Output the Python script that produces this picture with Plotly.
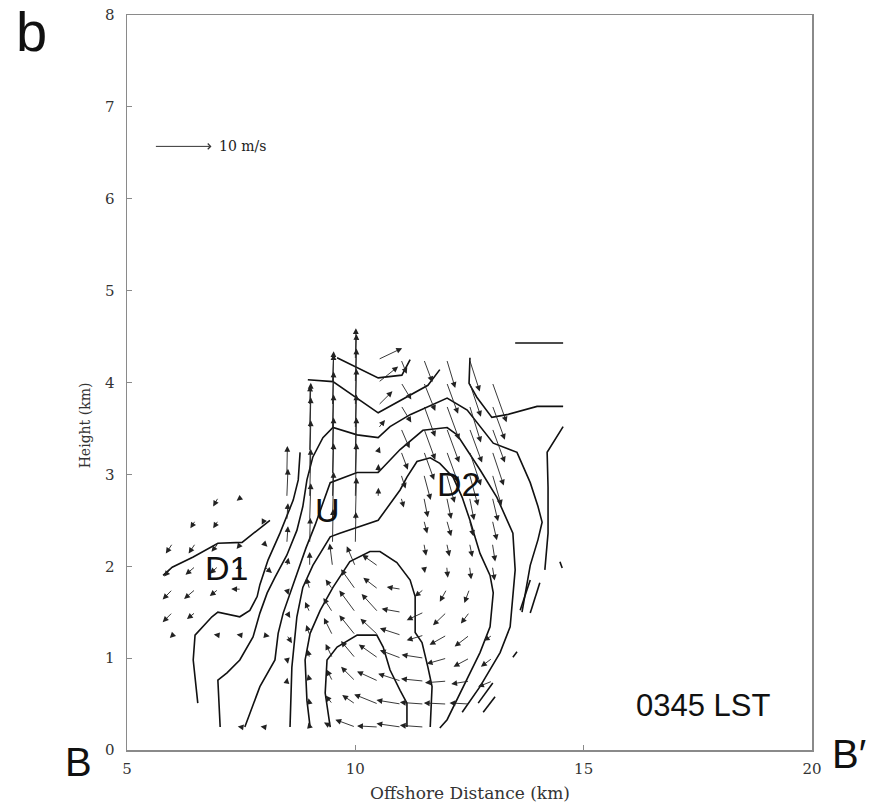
import plotly.graph_objects as go

# ---------------- data ----------------
X_GRID = [6.0, 6.5, 7.0, 7.5, 8.0, 8.5, 9.0, 9.5, 10.0, 10.5, 11.0, 11.5, 12.0, 12.5, 13.0, 13.5, 14.0, 14.5]
Z_GRID = [0.25, 0.5, 0.75, 1.0, 1.25, 1.5, 1.75, 2.0, 2.25, 2.5, 2.75, 3.0, 3.25, 3.5, 3.75, 4.0, 4.25]
N = None
# horizontal wind (m/s), one row per height
U_ROWS = [
    [N, N, -0.5, -0.6, -0.6, -0.3, -0.2, -1.5, -3.5, -3.7, -4.3, -4.2, N, N, N, N, N, N],
    [N, -0.4, -0.4, -0.5, -0.5, 0.1, -0.2, -1.2, -2.3, -4.2, -4.3, -4.2, -4.0, -3.5, N, N, N, N],
    [-0.3, N, -0.4, -0.5, -0.4, 0.1, -0.3, -1.0, -2.5, -3.7, -4.0, -4.0, -3.8, -3.2, -2.5, N, N, N],
    [-0.3, -0.3, -0.3, N, -0.3, 0.2, -0.4, -1.2, -2.5, -3.4, -3.7, -3.9, -3.5, -2.8, -2.0, N, N, N],
    [-0.5, -0.3, -0.8, -0.8, 1.0, 0.9, -0.6, -1.5, -2.8, -3.1, -3.7, -3.0, -3.0, -2.6, -1.5, N, N, N],
    [-1.75, -1.5, -0.4, N, -0.4, 0.6, -0.8, -1.6, -2.8, -2.9, -3.4, -3.0, -2.4, -1.5, N, N, N, N],
    [-1.75, -2.0, -1.5, -1.75, -0.5, 0.3, -0.6, -1.2, -2.5, -2.6, -2.5, -1.6, -1.2, -0.9, N, N, N, N],
    [-1.5, -1.75, -1.5, -1.0, 1.4, 0.3, 0.0, -0.5, -1.5, -2.8, -0.3, 0.2, 0.2, 0.3, 0.4, N, N, N],
    [-1.2, -1.2, -1.2, -0.8, 0.6, 0.2, 0.1, 0.1, 0.1, 0.2, 0.05, 0.4, 0.5, 0.5, 0.5, N, N, N],
    [N, -0.9, -0.9, -0.4, -0.4, 0.2, 0.2, 0.2, 0.2, 0.05, 0.1, 0.6, 0.8, 0.7, 0.8, N, N, N],
    [N, N, -0.9, -0.8, N, 0.2, 0.2, 0.2, 0.2, 0.05, 0.5, 0.7, 0.8, 0.8, 1.0, N, N, N],
    [N, N, N, N, N, 0.1, 0.2, 0.2, 0.2, 0.05, 0.8, 1.2, 1.4, 1.5, 1.6, N, N, N],
    [N, N, N, N, N, N, 0.2, 0.2, 0.2, 0.3, 1.2, 1.8, 2.0, 2.0, 2.0, N, N, N],
    [N, N, N, N, N, N, 0.2, 0.2, 0.2, 1.2, 1.5, 2.0, 2.2, 2.2, 2.2, N, N, N],
    [N, N, N, N, N, N, 0.1, 0.2, 0.2, 2.5, 1.8, 2.0, 2.2, 2.0, 2.2, N, N, N],
    [N, N, N, N, N, N, N, 0.2, 0.2, 3.5, 1.8, 2.0, 2.0, 2.0, 2.5, N, N, N],
    [N, N, N, N, N, N, N, N, 0.1, 4.2, 1.0, 1.5, 1.5, 1.8, N, N, N, N],
]
# vertical wind (m/s)
W_ROWS = [
    [N, N, 0.1, 0.1, 0.1, 0.4, 0.8, 0.8, 1.3, 0.2, 0.6, 0.3, N, N, N, N, N, N],
    [N, 0.1, 0.1, 0.1, 0.1, 0.5, 1.0, 1.5, 1.6, 1.7, 0.7, 0.3, 0.2, 0.2, N, N, N, N],
    [0.1, N, 0.1, 0.1, 0.1, 0.6, 1.2, 2.0, 2.5, 1.7, 1.3, 0.4, -0.3, -0.5, -1.0, N, N, N],
    [-0.2, 0.1, 0.1, N, 0.1, -1.0, 1.5, 2.5, 3.0, 2.4, 1.4, 0.6, -1.0, -1.5, -1.5, N, N, N],
    [-0.5, 0.1, 0.1, 0.1, -0.2, -1.4, 1.8, 3.0, 3.5, 2.9, 1.2, -0.9, -1.7, -2.0, -1.0, N, N, N],
    [-1.75, -1.2, -0.2, N, 0.3, -1.0, 1.8, 2.5, 3.8, 3.2, 0.6, -1.4, -2.3, -2.0, N, N, N, N],
    [-1.8, -1.7, -1.2, 0.05, 0.2, -1.0, 2.0, 1.7, 3.5, 2.0, 0.4, -1.3, -2.2, -2.4, N, N, N, N],
    [-1.8, -1.5, -1.3, -0.5, -1.2, 1.5, 2.5, 4.0, 3.5, 2.0, -0.3, -1.2, -2.0, -2.3, -2.5, N, N, N],
    [-1.8, -1.8, -1.5, -1.0, -0.6, 3.0, 4.5, 6.0, 5.5, 0.3, -0.3, -2.2, -2.3, -2.4, -3.2, N, N, N],
    [N, -1.4, -1.4, -0.3, -0.8, 3.0, 6.5, 8.5, 7.5, 0.5, -0.5, -2.3, -2.8, -2.8, -3.5, N, N, N],
    [N, N, -1.6, -0.6, N, 5.0, 8.5, 9.5, 9.5, 1.7, -1.8, -3.5, -3.8, -4.0, -4.2, N, N, N],
    [N, N, N, N, N, 5.0, 9.5, 10.0, 10.0, 1.8, -2.5, -4.5, -5.0, -5.5, -5.5, N, N, N],
    [N, N, N, N, N, N, 9.5, 10.0, 10.0, 0.8, -3.2, -5.0, -5.5, -6.0, -6.0, N, N, N],
    [N, N, N, N, N, N, 8.0, 10.0, 10.5, 1.5, -3.5, -5.5, -6.0, -6.0, -6.0, N, N, N],
    [N, N, N, N, N, N, 3.5, 9.0, 10.0, 2.5, -3.0, -5.5, -6.0, -6.5, -6.0, N, N, N],
    [N, N, N, N, N, N, N, 5.5, 8.5, 2.8, -3.0, -5.0, -5.5, -6.0, -7.0, N, N, N],
    [N, N, N, N, N, N, N, N, 5.5, 2.0, -2.5, -4.0, -5.0, -5.6, N, N, N, N],
]

# contour lines (km)
CONTOURS = {
    "k1": ([5.79, 5.99, 6.45, 6.99, 7.52, 8.07, 8.13],
           [1.90, 1.99, 2.10, 2.25, 2.26, 2.47, 2.50]),
    "k2": ([6.55, 6.45, 6.49, 6.86, 6.99, 7.47, 7.69, 7.85, 7.91, 8.09, 8.35, 8.50, 8.64, 8.75, 8.79],
           [0.51, 0.98, 1.25, 1.45, 1.50, 1.45, 1.52, 1.67, 1.80, 2.07, 2.36, 2.54, 2.72, 2.94, 3.24]),
    "k3": ([7.04, 6.99, 7.19, 7.47, 7.76, 7.91, 8.07, 8.24, 8.50, 8.72, 8.85, 8.94, 9.07, 9.18, 9.29, 9.51,
            10.04, 10.50, 10.76, 11.20, 12.01, 12.45, 13.02, 13.54, 13.83, 14.00, 14.09, 14.00, 13.83, 13.65],
           [0.25, 0.76, 0.84, 0.98, 1.23, 1.49, 1.71, 1.88, 2.12, 2.39, 2.65, 2.94, 3.19, 3.30, 3.40, 3.51,
            3.43, 3.40, 3.52, 3.65, 3.83, 3.70, 3.34, 3.24, 2.91, 2.65, 2.48, 2.29, 2.01, 1.50]),
    "k4": ([7.58, 7.91, 8.24, 8.31, 8.42, 8.57, 8.75, 8.92, 9.12, 9.27, 9.45, 10.04, 10.50, 10.98, 11.48,
            12.01, 12.23, 12.73, 13.10, 13.45, 13.50, 13.39, 13.17, 12.73, 12.34],
           [0.25, 0.69, 0.98, 1.27, 1.49, 1.71, 1.96, 2.20, 2.45, 2.67, 2.91, 3.02, 3.02, 3.27, 3.48,
            3.51, 3.43, 3.05, 2.75, 2.36, 1.96, 1.34, 1.06, 0.69, 0.41]),
    "k5": ([8.57, 8.61, 8.72, 8.85, 9.07, 9.45, 9.66, 10.50, 10.98, 11.13, 11.35, 11.64, 11.85, 12.14,
            12.34, 12.51, 12.73, 12.95, 13.02, 12.95, 12.73, 12.29, 12.01, 11.85],
           [0.25, 0.90, 1.45, 1.77, 2.01, 2.32, 2.36, 2.50, 2.83, 2.97, 3.14, 3.18, 3.12, 2.97,
            2.75, 2.50, 2.14, 1.90, 1.71, 1.34, 1.06, 0.62, 0.33, 0.24]),
    "k6": ([9.01, 8.94, 8.90, 9.01, 9.23, 9.51, 9.88, 10.32, 10.54, 10.91, 11.20, 11.31, 11.31, 11.46, 11.59, 11.68, 11.64],
           [0.25, 0.54, 0.98, 1.27, 1.52, 1.77, 2.05, 2.16, 2.16, 2.04, 1.85, 1.67, 1.28, 1.17, 0.90, 0.69, 0.25]),
    "k7": ([9.45, 9.34, 9.38, 9.60, 10.04, 10.47, 10.61, 10.76, 10.98, 11.13, 11.13],
           [0.25, 0.62, 0.98, 1.12, 1.25, 1.25, 1.12, 0.87, 0.65, 0.51, 0.25]),
    "t0": ([9.60, 10.50, 11.02, 11.20], [4.27, 4.05, 4.08, 4.25]),
    "t1": ([8.96, 9.51, 10.50, 11.20, 11.59, 11.85], [4.03, 4.01, 3.67, 3.86, 3.97, 4.14]),
    "r1": ([12.51, 12.49, 12.66, 12.99, 13.32, 13.98, 14.55], [4.27, 3.99, 3.84, 3.62, 3.65, 3.74, 3.74]),
    "r2": ([13.50, 14.55], [4.43, 4.43]),
    "r3": ([14.55, 14.20, 14.22, 14.22, 14.15], [3.52, 3.24, 2.86, 2.36, 1.96]),
    "d1": ([13.61, 13.83], [1.52, 1.85]),
    "d2": ([13.83, 14.04], [1.49, 1.82]),
    "d3": ([14.48, 14.53], [2.05, 1.98]),
    "d4": ([12.69, 13.01], [0.51, 0.73]),
    "d5": ([12.80, 13.06], [0.41, 0.58]),
    "d6": ([13.45, 13.54], [1.01, 1.07]),
}

REGION_LABELS = ["D1", "U", "D2"]
REGION_X = [7.17, 9.38, 12.25]
REGION_Z = [1.98, 2.61, 2.90]

X_TICKS = [5, 10, 15, 20]
Y_TICKS = [0, 1, 2, 3, 4, 5, 6, 7, 8]
REF_SPEED = 10  # m/s

# ---------------- figure ----------------
SX = 0.125   # km per m/s (horizontal)
SZ = 0.062   # km per m/s (vertical)

fig = go.Figure()

for name, (cx, cz) in CONTOURS.items():
    fig.add_trace(go.Scatter(x=cx, y=cz, mode="lines",
                             line=dict(color="#111111", width=1.6),
                             hoverinfo="skip", showlegend=False))

annotations = []
for zi, z0 in enumerate(Z_GRID):
    for xi, x0 in enumerate(X_GRID):
        u = U_ROWS[zi][xi]
        w = W_ROWS[zi][xi]
        if u is None or w is None:
            continue
        annotations.append(dict(
            x=x0 + u * SX, y=z0 + w * SZ, ax=x0, ay=z0,
            xref="x", yref="y", axref="x", ayref="y",
            text="", showarrow=True, arrowhead=2, arrowsize=1.3,
            arrowwidth=0.9, arrowcolor="#222222", standoff=0, startstandoff=0))

# reference vector
annotations.append(dict(x=5.6 + REF_SPEED * SX, y=6.57, ax=5.6, ay=6.57,
                        xref="x", yref="y", axref="x", ayref="y", text="",
                        showarrow=True, arrowhead=4, arrowsize=1.1, arrowwidth=1.0,
                        arrowcolor="#333333", standoff=0))
annotations.append(dict(x=6.98, y=6.57, xref="x", yref="y", text="10 m/s",
                        showarrow=False, xanchor="left", yanchor="middle",
                        font=dict(family="DejaVu Serif", size=14, color="#222222")))

for t, x, z in zip(REGION_LABELS, REGION_X, REGION_Z):
    annotations.append(dict(x=x, y=z, xref="x", yref="y", text=t, showarrow=False,
                            xanchor="center", yanchor="middle",
                            font=dict(family="Liberation Sans", size=34, color="#111111")))

annotations.append(dict(x=17.61, y=0.48, xref="x", yref="y", text="0345 LST", showarrow=False,
                        xanchor="center", yanchor="middle",
                        font=dict(family="Liberation Sans", size=31, color="#111111")))
annotations.append(dict(x=-0.139, y=0.977, xref="paper", yref="paper", text="b", showarrow=False,
                        xanchor="center", yanchor="middle",
                        font=dict(family="Liberation Sans", size=56, color="#111111")))
annotations.append(dict(x=-0.0715, y=-0.016, xref="paper", yref="paper", text="B", showarrow=False,
                        xanchor="center", yanchor="middle",
                        font=dict(family="Liberation Sans", size=40, color="#111111")))
annotations.append(dict(x=1.054, y=-0.005, xref="paper", yref="paper", text="B\u2032", showarrow=False,
                        xanchor="center", yanchor="middle",
                        font=dict(family="Liberation Sans", size=40, color="#111111")))
# axis titles
annotations.append(dict(x=0.5, y=-0.0585, xref="paper", yref="paper", text="Offshore Distance (km)",
                        showarrow=False, xanchor="center", yanchor="middle",
                        font=dict(family="DejaVu Serif", size=17, color="#333333")))
annotations.append(dict(x=-0.061, y=0.442, xref="paper", yref="paper", text="Height (km)",
                        showarrow=False, xanchor="center", yanchor="middle", textangle=-90,
                        font=dict(family="DejaVu Serif", size=14, color="#333333")))

axis_common = dict(showgrid=False, zeroline=False, showline=True, mirror=True, automargin=False,
                   linecolor="#8a8a8a", linewidth=1.5, ticks="inside", ticklen=5,
                   tickcolor="#8a8a8a", tickwidth=1.2,
                   tickfont=dict(family="DejaVu Serif", size=15, color="#333333"))

fig.update_layout(
    width=874, height=806,
    margin=dict(l=127, r=62, t=15, b=56, autoexpand=False),
    paper_bgcolor="white", plot_bgcolor="white",
    annotations=annotations,
    hovermode=False,
    xaxis=dict(range=[5, 20], tickvals=X_TICKS, ticklabelstandoff=4, **axis_common),
    yaxis=dict(range=[0, 8], tickvals=Y_TICKS, ticklabelstandoff=8, **axis_common),
)

fig.write_html("out.html",
               config={"displayModeBar": False, "staticPlot": True},
               post_script="document.body.style.margin='0';document.body.style.overflow='hidden';")
